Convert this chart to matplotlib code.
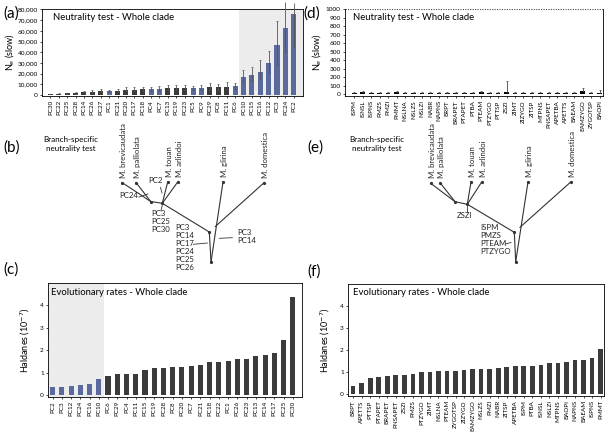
import matplotlib.pyplot as plt

plt.rcParams['font.family'] = ['Lato', 'DejaVu Sans']

# ---- (a) neutrality test, whole clade (PCs) ----
a_labels = ['PC30', 'PC22', 'PC25', 'PC28', 'PC14', 'PC26', 'PC27', 'PC1', 'PC21', 'PC20',
            'PC17', 'PC18', 'PC4', 'PC7', 'PC13', 'PC19', 'PC23', 'PC5', 'PC9', 'PC29',
            'PC8', 'PC11', 'PC6', 'PC10', 'PC15', 'PC16', 'PC12', 'PC3', 'PC24', 'PC2']
a_ne = [1000, 1500, 1600, 2000, 2500, 3000, 3500, 3600, 4000, 5000,
        5200, 5300, 5600, 6000, 6200, 6300, 6500, 6700, 7000, 7200,
        7500, 8000, 8500, 17000, 19000, 22000, 30000, 47000, 63000, 76000]
a_err_lo = [300, 400, 500, 600, 800, 900, 1000, 1000, 1200, 1500,
            1500, 1500, 1600, 1800, 1800, 1900, 2000, 2000, 2100, 2200,
            2300, 2400, 2500, 5000, 6000, 7000, 9000, 19000, 23000, 31000]
a_err_hi = [500, 700, 800, 1000, 1300, 1500, 2000, 1500, 2000, 3000,
            2800, 2700, 2000, 2300, 3000, 3000, 3200, 2000, 2200, 4500,
            3000, 4000, 3000, 6000, 7500, 11000, 11000, 22000, 24000, 10000]
a_blue = ['PC1', 'PC4', 'PC7', 'PC5', 'PC9', 'PC6', 'PC10', 'PC15', 'PC16',
          'PC12', 'PC3', 'PC24', 'PC2']
a_yticks = list(range(0, 80001, 10000))

# ---- (d) neutrality test, whole clade (ratios) ----
d_labels = ['ISPM', 'ISNSL', 'ISPNS', 'PMZS', 'PMZI', 'PMMT', 'NSLNA', 'NSLZS', 'NSLZI', 'NABR',
            'NAPNS', 'BRPT', 'BRAPET', 'PTAPET', 'PTBA', 'PTEAM', 'PTZYGO', 'PTTSP', 'ZSZI', 'ZIMT',
            'ZIZYGO', 'ZITSP', 'MTPNS', 'PNSAPET', 'APETBA', 'APETTS', 'BAEAM', 'EAMZYGO', 'ZYGOTSP', 'BAOPI']
d_ne = [20, 30, 22, 22, 20, 26, 22, 20, 22, 20,
        18, 20, 22, 20, 18, 24, 20, 22, 28, 22,
        20, 20, 20, 20, 20, 20, 22, 40, 20, 22]
d_err = [8, 12, 8, 8, 8, 12, 8, 8, 8, 8,
         6, 8, 10, 8, 6, 22, 8, 10, 130, 10,
         8, 8, 8, 8, 8, 8, 8, 30, 8, 25]
d_yticks = list(range(0, 1001, 100))

# ---- (c) evolutionary rates, PCs ----
c_labels = ['PC2', 'PC3', 'PC12', 'PC24', 'PC16', 'PC10', 'PC6', 'PC29', 'PC4', 'PC11',
            'PC15', 'PC19', 'PC28', 'PC8', 'PC20', 'PC7', 'PC21', 'PC18', 'PC22', 'PC1',
            'PC26', 'PC23', 'PC13', 'PC14', 'PC17', 'PC25', 'PC30']
c_rate = [0.36, 0.37, 0.44, 0.45, 0.50, 0.74, 0.87, 0.96, 0.96, 0.97,
          1.14, 1.21, 1.22, 1.25, 1.27, 1.29, 1.36, 1.48, 1.50, 1.51,
          1.61, 1.63, 1.75, 1.79, 1.87, 2.46, 4.36]
c_blue = ['PC2', 'PC3', 'PC12', 'PC24', 'PC16', 'PC10']

# ---- (f) evolutionary rates, ratios ----
f_labels = ['BRPT', 'APETTS', 'PTTSP', 'PTAPET', 'BRAPET', 'PNSAPET', 'ZSZI', 'PMZS', 'PTZYGO', 'ZIMT',
            'NSLNA', 'PTEAM', 'ZYGOTSP', 'ZIZYGO', 'EAMZYGO', 'NSLZS', 'PMZI', 'NABR', 'ZITSP', 'APETBA',
            'ISPM', 'PTBA', 'ISNSL', 'NSLZI', 'MTPNS', 'BAOPI', 'NAPNS', 'BAEAM', 'ISPNS', 'PMMT']
f_rate = [0.37, 0.54, 0.75, 0.79, 0.85, 0.87, 0.88, 0.93, 1.03, 1.03,
          1.06, 1.06, 1.07, 1.10, 1.13, 1.15, 1.16, 1.18, 1.24, 1.27,
          1.27, 1.28, 1.34, 1.42, 1.42, 1.45, 1.58, 1.58, 1.64, 2.05]
rate_yticks = [0, 1, 2, 3, 4]

# ---- trees (b) and (e): node positions on the page, in pixels ----
species = ['M. brevicaudata', 'M. palliolata', 'M. touan', 'M. arlindoi', 'M. glirina', 'M. domestica']
tree_edges = [('brev', 'A'), ('pall', 'A'), ('A', 'B'), ('touan', 'B'), ('arl', 'B'),
              ('B', 'C'), ('C', 'R'), ('gli', 'R'), ('dom', 'D')]
tree_b = {'brev': (122, 182.5), 'pall': (136, 182.5), 'touan': (167.7, 182), 'arl': (177.7, 182),
          'gli': (223, 182), 'dom': (264.3, 182.5), 'A': (150.7, 201.5), 'B': (162.3, 203.3),
          'C': (209.3, 232), 'D': (215.3, 226.5), 'R': (211, 262)}
tree_e = {'brev': (430.7, 183.3), 'pall': (440.3, 183), 'touan': (471, 182), 'arl': (481.7, 182),
          'gli': (528, 182), 'dom': (570.7, 182), 'A': (455, 201.7), 'B': (467.3, 204.3),
          'C': (514.3, 232.3), 'D': (520, 227.3), 'R': (515.7, 261.7)}
# branch annotations: (x, y of first line, text, ha), pointer segments
b_notes = [(138, 196, 'PC24', 'right'), (148, 181.7, 'PC2', 'left'),
           (151.7, 215, 'PC3\nPC25\nPC30', 'left'),
           (175, 229, 'PC3\nPC14\nPC17\nPC24\nPC25\nPC26', 'left'),
           (237.3, 233.3, 'PC3\nPC14', 'left')]
b_ptrs = [((139, 197), (148, 194)), ((160.5, 187.5), (162, 193)), ((162.3, 205), (161, 210.5)),
          ((193.5, 244.3), (207.3, 243)), ((219.3, 238.3), (232.3, 237.7))]
e_notes = [(464.7, 216.7, 'ZSZI', 'center'), (480, 229, 'ISPM\nPMZS\nPTEAM\nPTZYGO', 'left')]
e_ptrs = [((466.8, 206), (466.8, 211.5)), ((505.5, 244), (511, 242.5))]

BLUE = '#5a6a9c'
DARK = '#3b3b3b'
SHADE = '#ececec'
W, H = 612, 433

fig = plt.figure(figsize=(6.12, 4.33), dpi=100)


def axes_px(left, top, right, bottom):
    return fig.add_axes([left / W, 1 - bottom / H, (right - left) / W, (bottom - top) / H])


def style(ax):
    ax.tick_params(axis='both', length=1.5, width=0.5, pad=1.5, labelsize=4.6)
    ax.tick_params(axis='x', labelrotation=90, labelsize=4.5)
    for s in ax.spines.values():
        s.set_linewidth(0.6)


# (a)
ax = axes_px(42, 9, 303, 96)
xa = range(len(a_labels))
ax.axvspan(22.5, 30.1, color=SHADE, lw=0, zorder=0)
ax.bar(xa, a_ne, width=0.6, color=[BLUE if l in a_blue else DARK for l in a_labels], zorder=2)
eb = ax.errorbar(xa, a_ne, yerr=[a_err_lo, a_err_hi], fmt='none', ecolor='#555555',
                 elinewidth=0.6, capsize=0.8, capthick=0.5, zorder=3)
for art in eb.lines[2]:
    art.set_clip_on(False)
ax.set_xlim(-1, 30.1)
ax.set_ylim(-800, 80300)
ax.set_xticks(list(xa))
ax.set_xticklabels(a_labels)
ax.set_yticks(a_yticks)
ax.set_yticklabels(['{:,}'.format(v) for v in a_yticks])
ax.set_ylabel('N$_e$ (slow)', fontsize=6.5, labelpad=1)
ax.text(0.042, 0.9, 'Neutrality test - Whole clade', transform=ax.transAxes, fontsize=6.8, va='center')
style(ax)

# (d)
ax = axes_px(345, 9, 603, 96)
xd = range(len(d_labels))
ax.bar(xd, d_ne, width=0.55, color='black', zorder=2)
ax.errorbar(xd, d_ne, yerr=[[0] * len(d_err), d_err], fmt='none', ecolor='#444444',
            elinewidth=0.6, capsize=0.8, capthick=0.5, zorder=3)
ax.axhline(1000, color='#444444', lw=0.8, ls=(0, (1, 1.2)))
ax.spines['top'].set_visible(False)
ax.set_xlim(-1.1, 29.4)
ax.set_ylim(-18, 1000)
ax.set_xticks(list(xd))
ax.set_xticklabels(d_labels)
ax.set_yticks(d_yticks)
ax.set_ylabel('N$_e$ (slow)', fontsize=6.5, labelpad=2)
ax.text(0.03, 0.9, 'Neutrality test - Whole clade', transform=ax.transAxes, fontsize=6.8, va='center')
style(ax)

# (c)
ax = axes_px(48, 283, 302, 397)
xc = range(len(c_labels))
ax.axvspan(-0.5, 5.6, color=SHADE, lw=0, zorder=0)
ax.bar(xc, c_rate, width=0.55, color=[BLUE if l in c_blue else DARK for l in c_labels], zorder=2)
ax.set_xlim(-0.5, 27)
ax.set_ylim(-0.07, 5.0)
ax.set_xticks(list(xc))
ax.set_xticklabels(c_labels)
ax.set_yticks(rate_yticks)
ax.set_ylabel('Haldanes (10$^{-7}$)', fontsize=6.5, labelpad=6)
ax.text(0.01, 0.92, 'Evolutionary rates - Whole clade', transform=ax.transAxes, fontsize=6.8, va='center')
style(ax)

# (f)
ax = axes_px(348, 284, 604, 396)
xf = range(len(f_labels))
ax.bar(xf, f_rate, width=0.55, color=DARK, zorder=2)
ax.set_xlim(-0.6, 29.4)
ax.set_ylim(-0.07, 5.0)
ax.set_xticks(list(xf))
ax.set_xticklabels(f_labels)
ax.set_yticks(rate_yticks)
ax.set_ylabel('Haldanes (10$^{-7}$)', fontsize=6.5, labelpad=6)
ax.text(0.02, 0.92, 'Evolutionary rates - Whole clade', transform=ax.transAxes, fontsize=6.8, va='center')
style(ax)

# trees and panel letters on a page-sized overlay
ov = fig.add_axes([0, 0, 1, 1])
ov.set_xlim(0, W)
ov.set_ylim(H, 0)
ov.axis('off')

for tree, notes, ptrs in [(tree_b, b_notes, b_ptrs), (tree_e, e_notes, e_ptrs)]:
    for n1, n2 in tree_edges:
        ov.plot([tree[n1][0], tree[n2][0]], [tree[n1][1], tree[n2][1]], color='#333333', lw=0.8)
    for key in ['brev', 'pall', 'touan', 'arl', 'gli', 'dom', 'A', 'B', 'C', 'R']:
        ov.plot(*tree[key], 'o', ms=1.3, color='#333333')
    for name, key in zip(species, ['brev', 'pall', 'touan', 'arl', 'gli', 'dom']):
        ov.text(tree[key][0] + 1.5, tree[key][1] - 5, name, rotation=90, fontsize=5.6,
                ha='center', va='bottom', color='#222222')
    for x, y, txt, ha in notes:
        ov.text(x, y - 4.5, txt, fontsize=5.6, ha=ha, va='top', linespacing=1.15, color='#222222')
    for p1, p2 in ptrs:
        ov.plot([p1[0], p2[0]], [p1[1], p2[1]], color='#333333', lw=0.6)

ov.text(71, 144, 'Branch-specific\nneutrality test', fontsize=5.8, ha='center', va='center', linespacing=1.2)
ov.text(377, 144, 'Branch-specific\nneutrality test', fontsize=5.8, ha='center', va='center', linespacing=1.2)

for x, y, s in [(3, 14, '(a)'), (303, 14, '(d)'), (3, 148, '(b)'), (307, 148, '(e)'),
                (3, 270, '(c)'), (307, 272, '(f)')]:
    ov.text(x, y, s, fontsize=11, va='center', ha='left')

plt.savefig('out.png', dpi=100)
